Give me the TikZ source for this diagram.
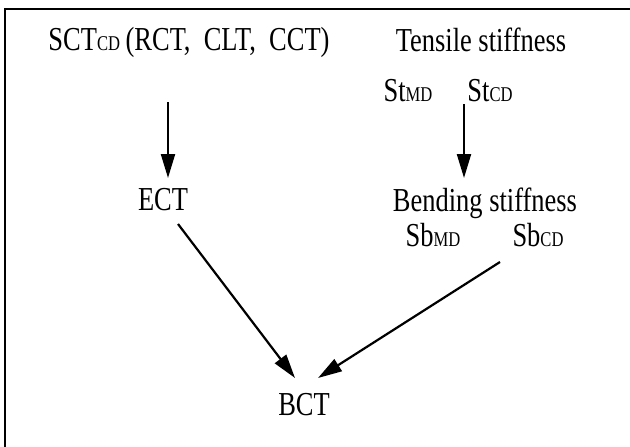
\documentclass[tikz,border=0pt]{standalone}
\usepackage{fontspec}
\setmainfont{Liberation Serif}[FakeStretch=0.79]
\usetikzlibrary{arrows.meta}
\newcommand{\smc}[1]{{\fontsize{21}{21}\selectfont #1}}
\tikzset{
  lbl/.style={anchor=base, inner sep=0pt, font=\fontsize{33.5}{33.5}\selectfont},
  conn/.style={line width=2.2pt, -{Triangle[length=24pt,width=14pt]}},
  frame/.style={line width=1.4pt}
}
\begin{document}
\begin{tikzpicture}[x=1pt,y=-1pt]
\useasboundingbox (0,0) rectangle (630,447);
\coordinate (ftr) at (630,9);
\coordinate (ftl) at (5,9);
\coordinate (fbl) at (5,447);
\draw[frame] (ftr) -- (ftl) -- (fbl);
\node[lbl] (sct) at (189,50) {SCT\smc{CD}\,(RCT, \ CLT, \ CCT)};
\node[lbl] (tens) at (481,51) {Tensile stiffness};
\node[lbl] (stmd) at (408,101) {St\smc{MD}};
\node[lbl] (stcd) at (490,101) {St\smc{CD}};
\node[lbl] (ect) at (163,210) {ECT};
\node[lbl] (bend) at (485,211) {Bending stiffness};
\node[lbl] (sbmd) at (433,246) {Sb\smc{MD}};
\node[lbl] (sbcd) at (538,246) {Sb\smc{CD}};
\node[lbl] (bct) at (304,415) {BCT};
\coordinate (a1s) at (168,102);
\coordinate (a1e) at (168,178);
\coordinate (a2s) at (464,104);
\coordinate (a2e) at (464,178);
\coordinate (l1s) at (178,224);
\coordinate (l1e) at (295,378);
\coordinate (l2s) at (500,262);
\coordinate (l2e) at (318,378);
\draw[conn] (a1s) -- (a1e);
\draw[conn] (a2s) -- (a2e);
\draw[conn] (l1s) -- (l1e);
\draw[conn] (l2s) -- (l2e);
\end{tikzpicture}
\end{document}
